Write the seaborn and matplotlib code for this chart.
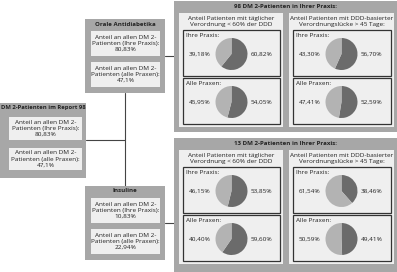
import matplotlib
matplotlib.use("Agg")
import matplotlib.pyplot as plt
import matplotlib.patches as mpatches
import seaborn as sns

# ---------------- data ----------------
report_title = "DM 2-Patienten im Report 98"
report_values = ["80,83%", "47,1%"]
drug_titles = ["Orale Antidiabetika", "Insuline"]
drug_share_own = ["80,83%", "10,83%"]
drug_share_all = ["47,1%", "22,94%"]
group_titles = ["98 DM 2-Patienten in Ihrer Praxis:", "13 DM 2-Patienten in Ihrer Praxis:"]
measure_titles = ["Anteil Patienten mit täglicher\nVerordnung < 60% der DDD",
                  "Anteil Patienten mit DDD-basierter\nVerordnungslücke > 45 Tage:"]
scope_labels = ["Ihre Praxis:", "Alle Praxen:"]
# dark slice (right) and light slice (left) per group / measure / scope
oad_daily_dark = [60.82, 54.05]
oad_daily_light = [39.18, 45.95]
oad_gap_dark = [56.70, 52.59]
oad_gap_light = [43.30, 47.41]
ins_daily_dark = [53.85, 59.60]
ins_daily_light = [46.15, 40.40]
ins_gap_dark = [38.46, 49.41]
ins_gap_light = [61.54, 50.59]

pie_dark = [[oad_daily_dark, oad_gap_dark], [ins_daily_dark, ins_gap_dark]]
pie_light = [[oad_daily_light, oad_gap_light], [ins_daily_light, ins_gap_light]]

# ---------------- style ----------------
sns.set_theme(style="white")
plt.rcParams["font.family"] = ["Open Sans", "DejaVu Sans"]
pal = sns.color_palette(["#a7a7a7", "#efefef", "#6b6b6b", "#b3b3b3", "#333333"])
GRAY, LIGHT, DARK, PIELIGHT, LINE = pal

W, H = 397, 272
fig = plt.figure(figsize=(W / 100, H / 100), dpi=100)
ax = fig.add_axes([0, 0, 1, 1])
ax.set_xlim(0, W)
ax.set_ylim(H, 0)
ax.axis("off")

FS = 4.6


def rect(x0, y0, x1, y1, fc, ec="none", lw=0, z=1):
    ax.add_patch(mpatches.Rectangle((x0, y0), x1 - x0, y1 - y0, facecolor=fc,
                                    edgecolor=ec, linewidth=lw, zorder=z))


def txt(x, y, s, bold=False, ha="center", size=FS):
    ax.text(x, y, s, ha=ha, va="center", fontsize=size,
            fontweight="bold" if bold else "normal", color="#222222",
            linespacing=1.25, zorder=5)


# connectors
ax.plot([86, 125], [140, 140], color="#444444", lw=0.8, zorder=0)
ax.plot([125, 125], [93, 186], color="#444444", lw=0.8, zorder=0)
ax.plot([165, 174], [56, 56], color="#444444", lw=0.8, zorder=0)
ax.plot([165, 174], [223, 223], color="#444444", lw=0.8, zorder=0)

# report box
rect(0, 103, 86, 178, GRAY)
txt(43, 107.5, report_title, bold=True, size=4.2)
rect(9, 117, 82, 140, LIGHT, z=2)
txt(45.5, 128.5, "Anteil an allen DM 2-\nPatienten (Ihre Praxis):\n" + report_values[0])
rect(9, 148, 82, 170, LIGHT, z=2)
txt(45.5, 159, "Anteil an allen DM 2-\nPatienten (alle Praxen):\n" + report_values[1])

# drug boxes
drug_y = [19, 186]
for i in range(2):
    y0 = drug_y[i]
    rect(85, y0, 165, y0 + 74, GRAY)
    txt(125, y0 + 5, drug_titles[i], bold=True, size=4.4)
    rect(91, y0 + 12, 160, y0 + 37, LIGHT, z=2)
    txt(125.5, y0 + 24.5, "Anteil an allen DM 2-\nPatienten (Ihre Praxis):\n" + drug_share_own[i])
    rect(91, y0 + 43, 160, y0 + 68, LIGHT, z=2)
    txt(125.5, y0 + 55.5, "Anteil an allen DM 2-\nPatienten (alle Praxen):\n" + drug_share_all[i])

# group boxes with pies
group_y = [1, 138]
panel_x = [(179, 283), (289, 394)]
R = 16
for g in range(2):
    gy = group_y[g]
    rect(174, gy, W + 2, gy + 131 if g == 0 else H + 2, GRAY)
    txt(285, gy + 5.5, group_titles[g], bold=True, size=4.4)
    for m in range(2):
        px0, px1 = panel_x[m]
        rect(px0, gy + 12, px1, gy + 126, LIGHT, z=2)
        txt((px0 + px1) / 2, gy + 20.5, measure_titles[m])
        for s in range(2):
            by0 = gy + 29 + s * 48
            by1 = by0 + 46
            rect(px0 + 4, by0, px1 - 3, by1, LIGHT, ec=LINE, lw=0.9, z=3)
            txt(px0 + 7, by0 + 5.5, scope_labels[s], ha="left")
            cx = px0 + 52.5
            cy = by0 + 24
            dark = pie_dark[g][m][s]
            light = pie_light[g][m][s]
            pax = fig.add_axes([(cx - R) / W, 1 - (cy + R) / H, 2 * R / W, 2 * R / H])
            pax.pie([dark, light], colors=[DARK, PIELIGHT], startangle=90,
                    counterclock=False, wedgeprops=dict(linewidth=0))
            pax.set_xlim(-1.0, 1.0)
            pax.set_ylim(-1.0, 1.0)
            pax.set_aspect("equal")
            pax.axis("off")
            txt(cx - 32, cy, f"{light:.2f}%".replace(".", ","))
            txt(cx + 30, cy, f"{dark:.2f}%".replace(".", ","))

fig.savefig("out.png", dpi=100)
